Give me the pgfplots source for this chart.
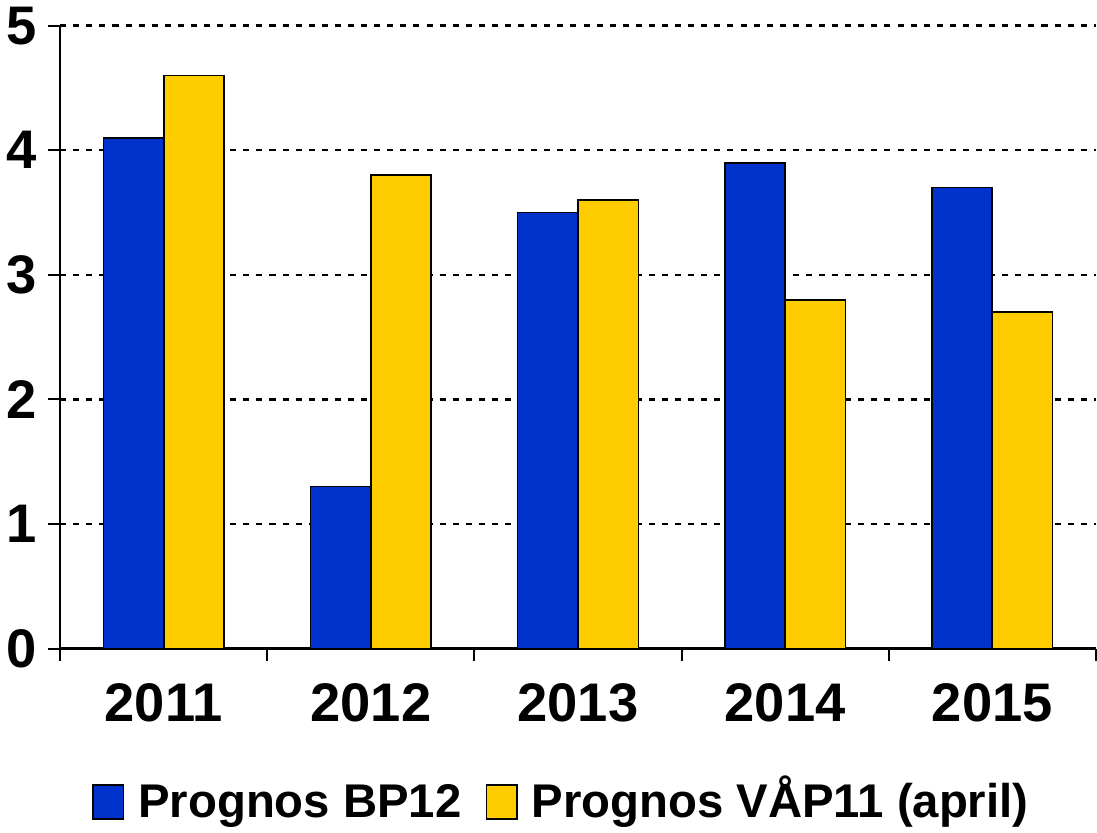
\documentclass[border=0pt]{standalone}
\usepackage{pgfplots}
\pgfplotsset{compat=1.18}
\usepackage{fontspec}
\setmainfont{Liberation Sans}
\definecolor{cblue}{HTML}{0033CC}
\definecolor{cyellow}{HTML}{FFCC00}
\begin{document}
\begin{tikzpicture}
\begin{axis}[
  scale only axis,
  width=514.5pt, height=309.5pt,
  ybar=0pt, bar width=30pt,
  xmin=-0.5, xmax=4.5,
  ymin=0, ymax=5,
  xtick={0,1,2,3,4},
  xticklabels={2011,2012,2013,2014,2015},
  minor xtick={-0.5,0.5,1.5,2.5,3.5,4.5},
  major x tick style={draw=none},
  minor x tick style={black, line width=1pt},
  ytick={0,1,2,3,4,5},
  axis x line*=bottom, axis y line*=left,
  axis line style={black, line width=1.2pt, -},
  ymajorgrids,
  major grid style={black, line width=1.2pt, dash pattern=on 3pt off 3.5pt},
  tick style={black, line width=1pt},
  tick align=outside,
  major tick length=6pt, minor tick length=6pt,
  /pgf/number format/assume math mode=true,
  ticklabel style={font=\fontsize{27}{30}\selectfont\bfseries},
  xticklabel style={yshift=-8pt},
  yticklabel style={xshift=-2pt},
  legend style={at={(0.485,-0.2)}, anchor=north, draw=none, legend columns=2,
    font=\fontsize{23.5}{28}\selectfont\bfseries,
    nodes={text height=20pt, text depth=5pt, inner ysep=0pt},
    /tikz/every odd column/.append style={column sep=5pt},
    /tikz/every even column/.append style={column sep=10pt}},
  legend image code/.code={\draw[#1, draw=black, line width=0.8pt] (0pt,-8pt) rectangle (15pt,9pt);},
]
\addplot[fill=cblue, draw=black, line width=0.8pt] coordinates {(0,4.1) (1,1.3) (2,3.5) (3,3.9) (4,3.7)};
\addplot[fill=cyellow, draw=black, line width=0.8pt] coordinates {(0,4.6) (1,3.8) (2,3.6) (3,2.8) (4,2.7)};
\legend{Prognos BP12, Prognos VÅP11 (april)}
\end{axis}
\end{tikzpicture}
\end{document}
